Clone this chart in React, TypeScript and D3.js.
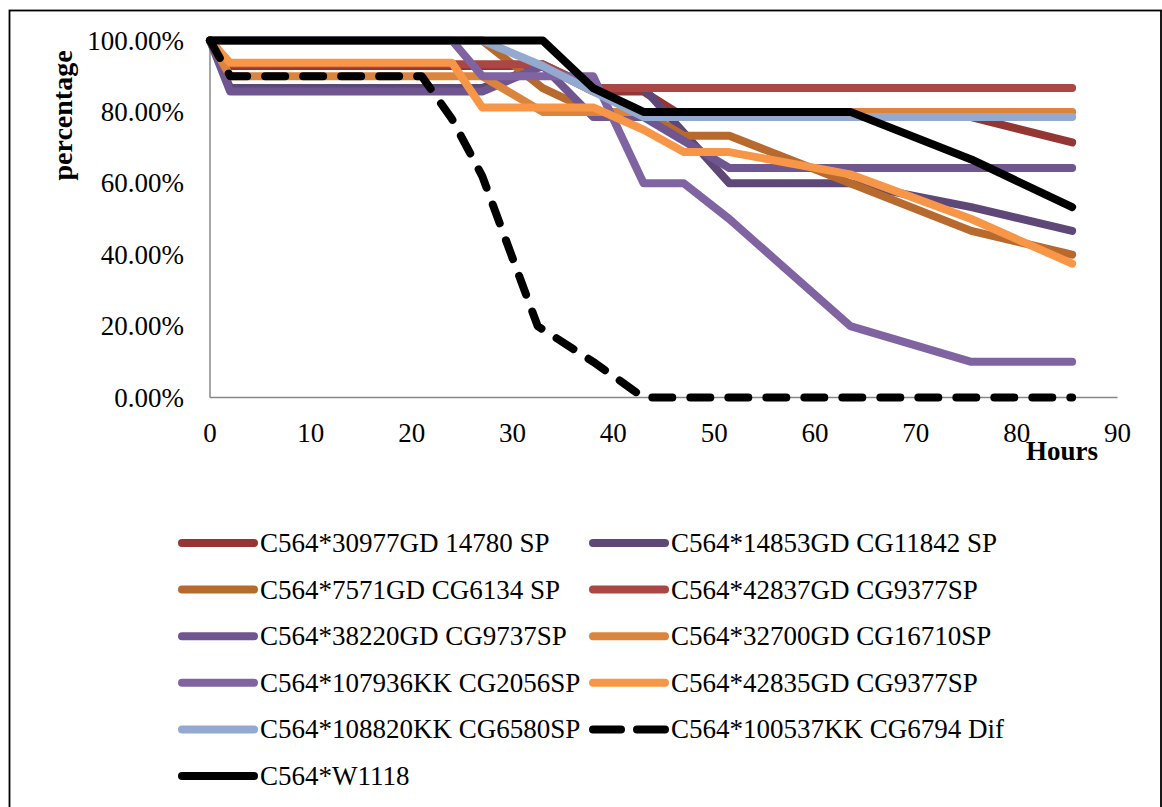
import React from "react";
import * as d3 from "d3";

// Time points (hours); null = no observation for that series at that time
const hours = [0, 2, 21, 24, 27, 32.5, 33, 38, 43, 47, 51.5, 63.5, 75.5, 85.5];

const s30977 = [100, 92.86, null, null, null, null, 92.86, 85.71, 85.71, 78.57, null, null, 78.57, 71.43];
const s14853 = [100, 86.67, null, null, 86.67, null, 93.33, 86.67, 86.67, null, 60, 60, 53.33, 46.67];
const s7571 = [100, null, null, null, 100, null, 86.67, 80, 80, 73.33, 73.33, 60, 46.67, 40];
const s42837 = [100, 93.33, null, null, null, null, 93.33, 86.67, null, null, null, null, null, 86.67];
const s38220 = [100, 85.71, null, null, 85.71, null, 92.86, 78.57, 78.57, null, 64.29, null, null, 64.29];
const s32700 = [100, 90, null, null, 90, null, 80, null, null, null, null, null, null, 80];
const s107936 = [100, null, null, 100, 90, null, null, 90, 60, 60, 50, 20, 10, 10];
const s42835 = [100, 93.75, null, 93.75, 81.25, null, null, 81.25, 75, 68.75, 68.75, 62.5, 50, 37.5];
const s108820 = [100, null, null, null, 100, null, 92.86, 85.71, 78.57, null, null, null, null, 78.57];
const s100537 = [100, 90, 90, 78, 62, 20, null, 10, 0, null, null, null, null, 0];
const sW1118 = [100, null, null, null, null, null, 100, 86.67, 80, null, null, 80, 66.67, 53.33];

const seriesNames = [
  "C564*30977GD 14780 SP",
  "C564*14853GD CG11842 SP",
  "C564*7571GD CG6134 SP",
  "C564*42837GD CG9377SP",
  "C564*38220GD CG9737SP",
  "C564*32700GD CG16710SP",
  "C564*107936KK CG2056SP",
  "C564*42835GD CG9377SP",
  "C564*108820KK CG6580SP",
  "C564*100537KK CG6794 Dif",
  "C564*W1118",
];
const seriesValues = [s30977, s14853, s7571, s42837, s38220, s32700, s107936, s42835, s108820, s100537, sW1118];
const seriesColors = [
  "#943634", "#5E4878", "#B8692E", "#AA4643", "#6F5691", "#DB843D",
  "#8064A2", "#F79646", "#93A9CF", "#000000", "#000000",
];
const seriesDashed = [false, false, false, false, false, false, false, false, false, true, false];

const xTicks = [0, 10, 20, 30, 40, 50, 60, 70, 80, 90];
const yTicks = [0, 20, 40, 60, 80, 100];

const FONT = "'Liberation Serif', 'Times New Roman', serif";

export default function App() {
  const x = d3.scaleLinear().domain([0, 90]).range([210, 1117.5]);
  const y = d3.scaleLinear().domain([0, 100]).range([397.5, 40.5]);
  const line = d3
    .line<[number, number]>()
    .x((d) => x(d[0]))
    .y((d) => y(d[1]));
  const pct = d3.format(".2%");

  const legendRowY = (i: number) => 543 + Math.floor(i / 2) * 46.6;
  const legendColX = (i: number) => (i % 2 === 0 ? 182 : 593);

  return (
    <svg
      width={1162}
      height={807}
      style={{ position: "absolute", left: 0, top: 0, background: "#fff" }}
      fontFamily={FONT}
    >
      <rect x={0} y={0} width={1162} height={807} fill="#fff" />
      <rect x={9.5} y={10.5} width={1151.5} height={830} fill="none" stroke="#000" strokeWidth={1.8} />

      {/* axes */}
      <line x1={x(0)} x2={x(0)} y1={y(100)} y2={y(0)} stroke="#898989" strokeWidth={1.5} />
      <line x1={x(0)} x2={x(90)} y1={y(0)} y2={y(0)} stroke="#898989" strokeWidth={1.5} />

      {yTicks.map((t) => (
        <text key={"y" + t} x={184} y={y(t) + 9} textAnchor="end" fontSize={27} fill="#000">
          {pct(t / 100)}
        </text>
      ))}
      {xTicks.map((t) => (
        <text key={"x" + t} x={x(t)} y={442} textAnchor="middle" fontSize={27} fill="#000">
          {t}
        </text>
      ))}

      <text
        transform={`translate(72,${y(79)}) rotate(-90)`}
        textAnchor="middle"
        fontSize={28}
        fontWeight="bold"
        fill="#000"
      >
        percentage
      </text>
      <text x={1062} y={460} textAnchor="middle" fontSize={27} fontWeight="bold" fill="#000">
        Hours
      </text>

      {/* series */}
      {seriesValues.map((vals, i) => {
        const pts = hours
          .map((h, k) => [h, vals[k]] as [number, number | null])
          .filter((p) => p[1] !== null) as [number, number][];
        return (
          <path
            key={"s" + i}
            d={line(pts) || ""}
            fill="none"
            stroke={seriesColors[i]}
            strokeWidth={8}
            strokeLinejoin="round"
            strokeLinecap="round"
            strokeDasharray={seriesDashed[i] ? "20 18" : undefined}
          />
        );
      })}

      {/* legend */}
      {seriesNames.map((name, i) => {
        const lx = legendColX(i);
        const ly = legendRowY(i);
        return (
          <g key={"l" + i}>
            <line
              x1={lx}
              x2={lx + 72}
              y1={ly}
              y2={ly}
              stroke={seriesColors[i]}
              strokeWidth={8}
              strokeLinecap="round"
              strokeDasharray={seriesDashed[i] ? "28 16" : undefined}
            />
            <text x={lx + 78} y={ly + 9} fontSize={27} fill="#000">
              {name}
            </text>
          </g>
        );
      })}
    </svg>
  );
}
